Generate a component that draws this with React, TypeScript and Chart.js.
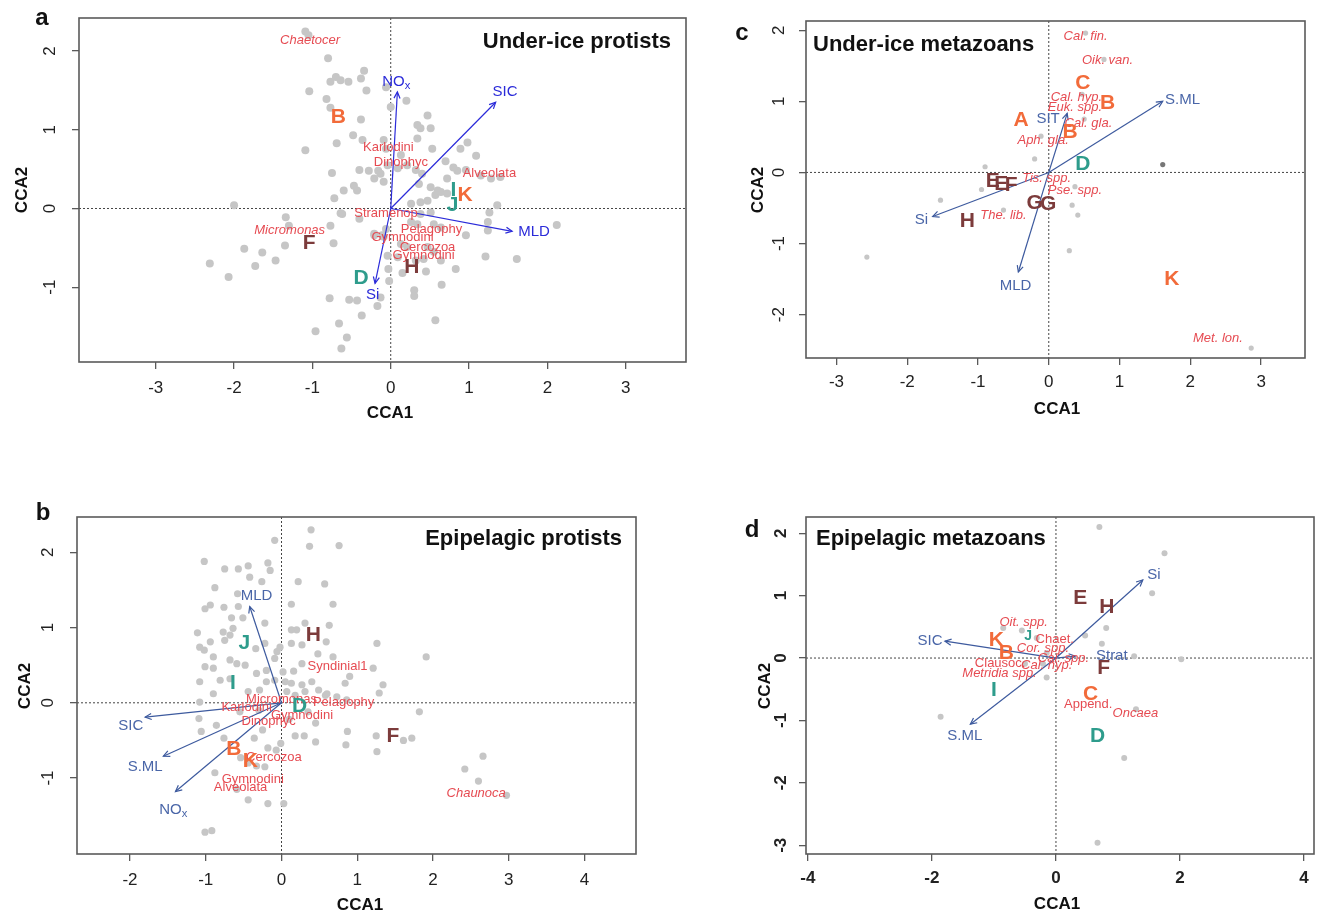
import React, { useEffect, useRef } from 'react';
import { Chart, registerables } from 'chart.js';
Chart.register(...registerables);

const FONT = '"Liberation Sans", Arial, Helvetica, sans-serif';

// ---------- Panel a : Under-ice protists ----------
const aXTicks = [-3, -2, -1, 0, 1, 2, 3];
const aYTicks = [-1, 0, 1, 2];
const aPoints: [number, number][] = [
  [-1.09, 2.25], [-1.05, 2.2], [-0.8, 1.91], [-0.34, 1.75], [-0.7, 1.67], [-0.64, 1.63], [-0.54, 1.61], [-0.77, 1.61],
  [-0.38, 1.65], [-0.31, 1.5], [-1.04, 1.49], [-0.82, 1.39], [-0.77, 1.28], [-0.38, 1.13], [-0.48, 0.93], [-0.36, 0.87],
  [-0.09, 0.87], [-0.69, 0.83], [-1.09, 0.74], [-0.75, 0.45], [-0.4, 0.49], [-0.28, 0.48], [-0.21, 0.38], [-0.09, 0.34],
  [-0.47, 0.29], [-0.43, 0.23], [-0.72, 0.13], [-2.0, 0.04], [-0.06, 1.54], [0.2, 1.37], [0.0, 1.29], [0.47, 1.18],
  [0.34, 1.06], [0.38, 1.02], [0.51, 1.02], [0.34, 0.89], [0.53, 0.76], [0.98, 0.84], [1.09, 0.67], [0.89, 0.76],
  [-0.06, 0.76], [0.13, 0.68], [-0.04, 0.55], [0.09, 0.51], [0.21, 0.55], [0.32, 0.49], [0.4, 0.44], [-0.16, 0.48],
  [-0.13, 0.44], [0.85, 0.48], [0.96, 0.49], [1.15, 0.42], [1.28, 0.38], [1.4, 0.4], [0.72, 0.38], [0.36, 0.31],
  [0.51, 0.27], [0.64, 0.21], [0.57, 0.17], [-0.6, 0.23], [1.36, 0.04], [0.26, 0.06], [0.38, 0.08], [1.26, -0.05],
  [1.24, -0.17], [1.24, -0.28], [0.96, -0.34], [2.12, -0.21], [1.21, -0.61], [1.61, -0.64], [0.83, -0.77], [0.65, -0.97],
  [0.57, -1.42], [0.45, -0.8], [0.15, -0.82], [0.3, -1.04], [0.3, -1.11], [-0.03, -0.77], [-0.02, -0.92], [-0.17, -1.24],
  [-0.13, -1.13], [-0.62, -0.07], [-0.4, -0.13], [-0.21, -0.34], [-0.09, -0.36], [-0.06, -0.26], [0.38, -0.07], [0.51, -0.05],
  [0.47, 0.1], [0.6, 0.23], [0.72, 0.19], [0.26, -0.17], [0.34, -0.2], [0.55, -0.2], [0.64, -0.24], [0.13, -0.45],
  [0.21, -0.49], [0.47, -0.49], [0.55, -0.55], [-0.04, -0.6], [0.09, -0.62], [0.32, -0.66], [0.42, -0.64], [0.64, -0.66],
  [-0.78, -1.14], [-0.53, -1.16], [-0.43, -1.17], [-0.37, -1.36], [-0.66, -1.46], [-0.96, -1.56], [-0.56, -1.64], [-0.63, -1.78],
  [-1.34, -0.11], [-1.3, -0.22], [-0.77, -0.22], [-0.64, -0.06], [-0.73, -0.44], [-1.35, -0.47], [-1.87, -0.51], [-1.64, -0.56],
  [-1.47, -0.66], [-1.73, -0.73], [-2.31, -0.7], [-2.07, -0.87], [-0.21, -0.32], [-0.11, -0.34], [0.8, 0.52], [0.7, 0.6],
];
// [letter, colour group, x, y, size]
const aSites: [string, string, number, number, number][] = [
  ['B', 'O', -0.67, 1.16, 21], ['F', 'R', -1.04, -0.44, 21], ['D', 'T', -0.38, -0.88, 21], ['H', 'R', 0.27, -0.74, 21],
  ['I', 'T', 0.8, 0.23, 21], ['J', 'T', 0.79, 0.04, 21], ['K', 'O', 0.95, 0.17, 21],
];
// [text, x, y, italic]
const aTaxa: [string, number, number, boolean][] = [
  ['Chaetocer', -1.03, 2.14, true], ['Karlodini', -0.03, 0.77, false], ['Dinophyc', 0.13, 0.58, false],
  ['Alveolata', 1.26, 0.45, false], ['Stramenop', -0.06, -0.06, false], ['Micromonas', -1.29, -0.28, true],
  ['Pelagophy', 0.52, -0.27, false], ['Gymnodini', 0.15, -0.37, false], ['Cercozoa', 0.47, -0.5, false],
  ['Gymnodini', 0.42, -0.6, false],
];
// [label, tip x, tip y, label x, label y]
const aArrows: [string, number, number, number, number][] = [
  ['NOx', 0.085, 1.48, 0.07, 1.61], ['SIC', 1.34, 1.35, 1.46, 1.48], ['MLD', 1.55, -0.29, 1.83, -0.3], ['Si', -0.2, -0.95, -0.23, -1.1],
];

// ---------- Panel b : Epipelagic protists ----------
const bXTicks = [-2, -1, 0, 1, 2, 3, 4];
const bYTicks = [-1, 0, 1, 2];
const bPoints: [number, number][] = [
  [0.39, 2.3], [0.37, 2.08], [-0.09, 2.16], [-1.02, 1.88], [-0.75, 1.78], [-0.57, 1.78], [-0.44, 1.82], [-0.18, 1.86],
  [-0.15, 1.76], [-0.42, 1.67], [-0.88, 1.53], [-0.26, 1.61], [0.22, 1.61], [0.57, 1.58], [-0.58, 1.45], [-1.01, 1.25],
  [-0.94, 1.3], [-0.76, 1.27], [-0.57, 1.28], [0.13, 1.31], [-0.66, 1.13], [-0.51, 1.13], [-0.22, 1.06], [-1.11, 0.93],
  [-0.77, 0.94], [-0.64, 0.99], [0.31, 1.06], [0.2, 0.97], [0.13, 0.97], [-1.08, 0.74], [-0.94, 0.81], [-1.02, 0.7],
  [-0.75, 0.83], [-0.68, 0.9], [-0.34, 0.72], [-0.22, 0.79], [-0.06, 0.68], [-0.02, 0.74], [-0.09, 0.59], [0.13, 0.79],
  [0.27, 0.77], [-0.9, 0.61], [-0.68, 0.57], [-0.59, 0.52], [-0.48, 0.5], [-1.01, 0.48], [-0.9, 0.46], [-0.33, 0.39],
  [-0.2, 0.43], [0.02, 0.41], [0.16, 0.42], [0.27, 0.52], [-1.08, 0.28], [-0.81, 0.3], [-0.68, 0.32], [-0.2, 0.28],
  [-0.09, 0.3], [0.05, 0.28], [0.13, 0.26], [0.27, 0.24], [0.4, 0.28], [-0.9, 0.12], [-1.08, 0.01], [-0.44, 0.15],
  [-0.29, 0.17], [0.07, 0.15], [0.18, 0.1], [0.31, 0.15], [0.49, 0.17], [0.58, 0.1], [0.76, 2.09], [0.68, 1.31],
  [0.63, 1.03], [1.26, 0.79], [1.91, 0.61], [0.59, 0.81], [0.48, 0.65], [0.68, 0.61], [1.21, 0.46], [0.9, 0.35],
  [0.84, 0.26], [1.34, 0.24], [1.29, 0.13], [0.6, 0.12], [0.73, 0.08], [0.86, 0.04], [1.82, -0.12], [0.87, -0.38],
  [0.85, -0.56], [1.25, -0.44], [1.26, -0.65], [1.61, -0.5], [1.72, -0.47], [2.42, -0.88], [2.66, -0.71], [2.6, -1.04],
  [2.97, -1.23], [0.18, -0.44], [0.3, -0.44], [0.45, -0.52], [0.45, -0.27], [-0.01, -0.54], [-0.07, -0.63], [-0.18, -0.6],
  [-0.36, -0.47], [-0.25, -0.36], [-0.76, -0.47], [-0.86, -0.3], [-1.06, -0.38], [-1.09, -0.21], [-0.88, -0.93], [-0.22, -0.85],
  [-0.33, -0.84], [-0.44, -1.29], [-0.18, -1.34], [0.03, -1.34], [-0.59, -1.15], [-1.01, -1.72], [-0.92, -1.7], [-0.54, -0.73],
  [-0.44, -0.8], [-0.55, -0.12], [-0.3, -0.1], [0.1, -0.22], [0.35, -0.12],
];
const bSites: [string, string, number, number, number][] = [
  ['H', 'R', 0.42, 0.9, 21], ['J', 'T', -0.49, 0.79, 21], ['I', 'T', -0.64, 0.26, 21], ['D', 'T', 0.24, -0.05, 21],
  ['B', 'O', -0.63, -0.62, 21], ['K', 'O', -0.41, -0.78, 21], ['F', 'R', 1.47, -0.45, 21],
];
const bTaxa: [string, number, number, boolean][] = [
  ['Syndinial1', 0.74, 0.49, false], ['Micromonas', 0.0, 0.05, false], ['Pelagophy', 0.82, 0.0, false],
  ['Karlodini', -0.46, -0.06, false], ['Gymnodini', 0.27, -0.17, false], ['Dinophyc', -0.17, -0.25, false],
  ['Cercozoa', -0.1, -0.72, false], ['Gymnodini', -0.38, -1.02, false], ['Alveolata', -0.54, -1.13, false],
  ['Chaunoca', 2.57, -1.21, true],
];
const bArrows: [string, number, number, number, number][] = [
  ['MLD', -0.42, 1.28, -0.33, 1.42], ['SIC', -1.8, -0.19, -1.99, -0.3], ['S.ML', -1.56, -0.71, -1.8, -0.85], ['NOx', -1.4, -1.18, -1.43, -1.42],
];

// ---------- Panel c : Under-ice metazoans ----------
const cXTicks = [-3, -2, -1, 0, 1, 2, 3];
const cYTicks = [-2, -1, 0, 1, 2];
const cPoints: [number, number][] = [
  [0.52, 1.96], [0.78, 1.59], [0.47, 1.1], [0.5, 0.75], [-0.11, 0.51], [-0.2, 0.19], [-0.9, 0.08], [0.37, -0.2],
  [0.33, -0.46], [-0.95, -0.24], [-1.53, -0.39], [-0.64, -0.53], [0.41, -0.6], [0.29, -1.1], [-2.57, -1.19], [2.86, -2.47],
];
const cDarkPoints: [number, number][] = [[1.61, 0.11]];
const cSites: [string, string, number, number, number][] = [
  ['C', 'O', 0.48, 1.25, 21], ['B', 'O', 0.83, 0.98, 21], ['A', 'O', -0.39, 0.74, 21], ['B', 'O', 0.3, 0.56, 21],
  ['D', 'T', 0.48, 0.12, 21], ['E', 'R', -0.79, -0.13, 21], ['E', 'R', -0.67, -0.17, 21], ['F', 'R', -0.53, -0.18, 21],
  ['G', 'R', -0.2, -0.43, 21], ['G', 'R', -0.01, -0.44, 21], ['H', 'R', -1.15, -0.69, 21], ['K', 'O', 1.74, -1.5, 21],
];
const cTaxa: [string, number, number, boolean][] = [
  ['Cal. fin.', 0.52, 1.91, true], ['Oik. van.', 0.83, 1.58, true], ['Cal. hyp.', 0.39, 1.06, true],
  ['Euk. spp.', 0.37, 0.92, true], ['Cal. gla.', 0.56, 0.69, true], ['Aph. gla.', -0.08, 0.45, true],
  ['Tis. spp.', -0.03, -0.09, true], ['Pse. spp.', 0.37, -0.25, true], ['The. lib.', -0.64, -0.6, true],
  ['Met. lon.', 2.39, -2.34, true],
];
const cArrows: [string, number, number, number, number][] = [
  ['S.ML', 1.61, 1.0, 1.89, 1.02], ['SIT', 0.26, 0.83, -0.01, 0.75], ['Si', -1.64, -0.62, -1.8, -0.67], ['MLD', -0.43, -1.4, -0.47, -1.6],
];

// ---------- Panel d : Epipelagic metazoans ----------
const dXTicks = [-4, -2, 0, 2, 4];
const dYTicks = [-3, -2, -1, 0, 1, 2];
const dPoints: [number, number][] = [
  [0.7, 2.1], [1.75, 1.68], [1.55, 1.04], [0.81, 0.48], [0.47, 0.36], [0.74, 0.23], [1.26, 0.03], [2.02, -0.02],
  [-0.15, -0.31], [-1.86, -0.94], [1.1, -1.6], [0.67, -2.96], [1.29, -0.82], [-0.85, 0.48], [-0.55, 0.44], [-0.31, 0.32],
  [-0.15, 0.08], [-0.5, -0.09], [-0.21, -0.09],
];
const dSites: [string, string, number, number, number][] = [
  ['E', 'R', 0.39, 0.96, 21], ['H', 'R', 0.82, 0.82, 21], ['K', 'O', -0.96, 0.28, 21], ['J', 'T', -0.45, 0.35, 14],
  ['B', 'O', -0.8, 0.07, 21], ['F', 'R', 0.77, -0.16, 21], ['I', 'T', -1.0, -0.51, 21], ['C', 'O', 0.56, -0.58, 21],
  ['D', 'T', 0.67, -1.25, 21],
];
const dTaxa: [string, number, number, boolean][] = [
  ['Oit. spp.', -0.52, 0.57, true], ['Chaet.', -0.02, 0.3, false], ['Cor. spp.', -0.21, 0.15, true],
  ['Cal. spp.', 0.12, -0.01, true], ['Clausoc.', -0.9, -0.09, false], ['Cal. hyp.', -0.15, -0.11, true],
  ['Metridia spp.', -0.91, -0.25, true], ['Append.', 0.52, -0.74, false], ['Oncaea', 1.28, -0.88, true],
];
const dArrows: [string, number, number, number, number][] = [
  ['Si', 1.4, 1.25, 1.58, 1.34], ['SIC', -1.79, 0.27, -2.03, 0.28], ['S.ML', -1.38, -1.06, -1.47, -1.24], ['Strat', 0.31, 0.03, 0.9, 0.03],
];

const SITE_COLORS: Record<string, string> = { O: '#f26b3a', R: '#7c3b3b', T: '#2e9c8c' };
const TAXON_COLOR = '#e64b52';
const POINT_COLOR = '#c6c6c6';
const FRAME = '#5a5a5a';
const AXW = 40;

type Spec = {
  left: number; top: number; w: number; h: number;
  area: { l: number; t: number; r: number; b: number };
  xr: [number, number]; yr: [number, number];
  xTicks: number[]; yTicks: number[];
  points: [number, number][]; dark?: [number, number][];
  pointR: number;
  sites: [string, string, number, number, number][];
  taxa: [string, number, number, boolean][];
  arrows: [string, number, number, number, number][];
  arrowColor: string; arrowText: string;
  letter: string; letterPos: [number, number];
  title: string; titleAlign: 'left' | 'right'; titlePos: [number, number];
  xTitlePos: [number, number]; yTitlePos: [number, number];
  yTickOff: number; xTickOff: number; tickBold: boolean;
};

function drawLabel(ctx: CanvasRenderingContext2D, text: string, x: number, y: number, size: number, color: string) {
  ctx.fillStyle = color;
  ctx.textBaseline = 'middle';
  if (text === 'NOx') {
    ctx.font = `${size}px ${FONT}`;
    const w1 = ctx.measureText('NO').width;
    ctx.font = `${size * 0.75}px ${FONT}`;
    const w2 = ctx.measureText('x').width;
    const x0 = x - (w1 + w2) / 2;
    ctx.textAlign = 'left';
    ctx.font = `${size}px ${FONT}`;
    ctx.fillText('NO', x0, y);
    ctx.font = `${size * 0.75}px ${FONT}`;
    ctx.fillText('x', x0 + w1, y + 4);
  } else {
    ctx.font = `${size}px ${FONT}`;
    ctx.textAlign = 'center';
    ctx.fillText(text, x, y);
  }
}

function makeOverlay(s: Spec) {
  return {
    id: 'overlay',
    beforeDatasetsDraw(chart: any) {
      const { ctx, chartArea: a, scales } = chart;
      const x0 = scales.x.getPixelForValue(0);
      const y0 = scales.y.getPixelForValue(0);
      ctx.save();
      ctx.strokeStyle = '#444';
      ctx.lineWidth = 1;
      ctx.setLineDash([2, 2]);
      ctx.beginPath();
      ctx.moveTo(a.left, y0); ctx.lineTo(a.right, y0);
      ctx.moveTo(x0, a.top); ctx.lineTo(x0, a.bottom);
      ctx.stroke();
      ctx.restore();
    },
    afterDatasetsDraw(chart: any) {
      const { ctx, scales } = chart;
      const px = (v: number) => scales.x.getPixelForValue(v);
      const py = (v: number) => scales.y.getPixelForValue(v);
      ctx.save();
      // arrowheads
      const ox = px(0), oy = py(0);
      ctx.strokeStyle = s.arrowColor;
      ctx.lineWidth = 1.2;
      for (const [, tx, ty] of s.arrows) {
        const ex = px(tx), ey = py(ty);
        const ang = Math.atan2(ey - oy, ex - ox);
        const L = 7, sp = Math.PI / 7;
        ctx.beginPath();
        ctx.moveTo(ex - L * Math.cos(ang - sp), ey - L * Math.sin(ang - sp));
        ctx.lineTo(ex, ey);
        ctx.lineTo(ex - L * Math.cos(ang + sp), ey - L * Math.sin(ang + sp));
        ctx.stroke();
      }
      // taxa
      ctx.textAlign = 'center';
      ctx.textBaseline = 'middle';
      ctx.fillStyle = TAXON_COLOR;
      for (const [t, x, y, it] of s.taxa) {
        ctx.font = `${it ? 'italic ' : ''}13px ${FONT}`;
        ctx.fillText(t, px(x), py(y));
      }
      // site letters
      for (const [t, c, x, y, sz] of s.sites) {
        ctx.font = `bold ${sz}px ${FONT}`;
        ctx.fillStyle = SITE_COLORS[c];
        ctx.fillText(t, px(x), py(y));
      }
      // arrow labels
      for (const [lab, , , lx, ly] of s.arrows) {
        drawLabel(ctx, lab, px(lx), py(ly), 15, s.arrowText);
      }
      ctx.restore();
    },
    afterDraw(chart: any) {
      const { ctx, chartArea: a, scales } = chart;
      ctx.save();
      ctx.strokeStyle = FRAME;
      ctx.lineWidth = 1.6;
      ctx.strokeRect(a.left, a.top, a.right - a.left, a.bottom - a.top);
      ctx.fillStyle = '#222';
      ctx.textAlign = 'center';
      ctx.textBaseline = 'middle';
      ctx.font = `${s.tickBold ? 'bold ' : ''}17px ${FONT}`;
      for (const v of s.xTicks) {
        ctx.fillText(v < 0 ? '-' + Math.abs(v) : String(v), scales.x.getPixelForValue(v), a.bottom + s.xTickOff);
      }
      for (const v of s.yTicks) {
        ctx.save();
        ctx.translate(a.left - s.yTickOff, scales.y.getPixelForValue(v));
        ctx.rotate(-Math.PI / 2);
        ctx.fillText(v < 0 ? '-' + Math.abs(v) : String(v), 0, 0);
        ctx.restore();
      }
      ctx.fillStyle = '#111';
      ctx.font = `bold 17px ${FONT}`;
      ctx.fillText('CCA1', s.xTitlePos[0], s.xTitlePos[1]);
      ctx.save();
      ctx.translate(s.yTitlePos[0], s.yTitlePos[1]);
      ctx.rotate(-Math.PI / 2);
      ctx.fillText('CCA2', 0, 0);
      ctx.restore();
      ctx.font = `bold 24px ${FONT}`;
      ctx.fillText(s.letter, s.letterPos[0], s.letterPos[1]);
      ctx.font = `bold 22px ${FONT}`;
      ctx.textAlign = s.titleAlign;
      ctx.fillText(s.title, s.titlePos[0], s.titlePos[1]);
      ctx.restore();
    },
  };
}

function Panel({ s }: { s: Spec }) {
  const ref = useRef<HTMLCanvasElement>(null);
  useEffect(() => {
    const datasets: any[] = [
      {
        data: s.points.map(([x, y]) => ({ x, y })),
        pointRadius: s.pointR, backgroundColor: POINT_COLOR, borderWidth: 0, order: 3,
      },
    ];
    if (s.dark) {
      datasets.push({
        data: s.dark.map(([x, y]) => ({ x, y })),
        pointRadius: s.pointR, backgroundColor: '#777', borderWidth: 0, order: 2,
      });
    }
    for (const [, tx, ty] of s.arrows) {
      datasets.push({
        data: [{ x: 0, y: 0 }, { x: tx, y: ty }],
        showLine: true, borderColor: s.arrowColor, borderWidth: 1.2, pointRadius: 0, order: 1,
      });
    }
    const axisCommon = {
      type: 'linear',
      ticks: { display: false },
      grid: { display: true, drawOnChartArea: false, drawTicks: true, tickLength: 7, color: FRAME, lineWidth: 1.3 },
      border: { display: false },
    };
    const chart = new Chart(ref.current as HTMLCanvasElement, {
      type: 'scatter',
      data: { datasets },
      options: {
        responsive: false,
        animation: false,
        events: [],
        layout: {
          padding: {
            left: s.area.l - AXW, top: s.area.t, right: s.w - s.area.r, bottom: s.h - s.area.b - AXW,
          },
        },
        plugins: { legend: { display: false }, tooltip: { enabled: false } },
        scales: {
          x: {
            ...axisCommon, position: 'bottom', min: s.xr[0], max: s.xr[1],
            afterBuildTicks: (sc: any) => { sc.ticks = s.xTicks.map((v) => ({ value: v })); },
            afterFit: (sc: any) => { sc.height = AXW; },
          },
          y: {
            ...axisCommon, position: 'left', min: s.yr[0], max: s.yr[1],
            afterBuildTicks: (sc: any) => { sc.ticks = s.yTicks.map((v) => ({ value: v })); },
            afterFit: (sc: any) => { sc.width = AXW; },
          },
        },
      } as any,
      plugins: [makeOverlay(s)],
    } as any);
    return () => chart.destroy();
  }, []);
  return (
    <canvas
      ref={ref}
      width={s.w}
      height={s.h}
      style={{ position: 'absolute', left: s.left, top: s.top, width: s.w, height: s.h }}
    />
  );
}

const specA: Spec = {
  left: 0, top: 0, w: 705, h: 440, area: { l: 79, t: 18, r: 686, b: 362 },
  xr: [-3.98, 3.77], yr: [-1.95, 2.42], xTicks: aXTicks, yTicks: aYTicks,
  points: aPoints, pointR: 4, sites: aSites, taxa: aTaxa, arrows: aArrows,
  arrowColor: '#2b2bd9', arrowText: '#2b2bd9',
  letter: 'a', letterPos: [42, 18], title: 'Under-ice protists', titleAlign: 'right', titlePos: [671, 42],
  xTitlePos: [390, 413], yTitlePos: [22, 190], yTickOff: 29, xTickOff: 26, tickBold: false,
};
const specB: Spec = {
  left: 0, top: 470, w: 705, h: 445, area: { l: 77, t: 47, r: 636, b: 384 },
  xr: [-2.7, 4.68], yr: [-2.01, 2.47], xTicks: bXTicks, yTicks: bYTicks,
  points: bPoints, pointR: 3.6, sites: bSites, taxa: bTaxa, arrows: bArrows,
  arrowColor: '#3d5a9e', arrowText: '#4a66a8',
  letter: 'b', letterPos: [43, 43], title: 'Epipelagic protists', titleAlign: 'right', titlePos: [622, 69],
  xTitlePos: [360, 435], yTitlePos: [25, 216], yTickOff: 29, xTickOff: 26, tickBold: false,
};
const specC: Spec = {
  left: 710, top: 0, w: 609, h: 440, area: { l: 96, t: 21, r: 595, b: 358 },
  xr: [-3.43, 3.62], yr: [-2.61, 2.13], xTicks: cXTicks, yTicks: cYTicks,
  points: cPoints, dark: cDarkPoints, pointR: 2.6, sites: cSites, taxa: cTaxa, arrows: cArrows,
  arrowColor: '#3d5a9e', arrowText: '#4a66a8',
  letter: 'c', letterPos: [32, 33], title: 'Under-ice metazoans', titleAlign: 'left', titlePos: [103, 45],
  xTitlePos: [347, 409], yTitlePos: [48, 190], yTickOff: 27, xTickOff: 24, tickBold: false,
};
const specD: Spec = {
  left: 710, top: 470, w: 609, h: 445, area: { l: 96, t: 47, r: 604, b: 384 },
  xr: [-4.03, 4.16], yr: [-3.14, 2.26], xTicks: dXTicks, yTicks: dYTicks,
  points: dPoints, pointR: 3, sites: dSites, taxa: dTaxa, arrows: dArrows,
  arrowColor: '#3d5a9e', arrowText: '#4a66a8',
  letter: 'd', letterPos: [42, 60], title: 'Epipelagic metazoans', titleAlign: 'left', titlePos: [106, 69],
  xTitlePos: [347, 434], yTitlePos: [55, 216], yTickOff: 25, xTickOff: 24, tickBold: true,
};

export default function App() {
  return (
    <div style={{ position: 'absolute', left: 0, top: 0, width: 1319, height: 915, background: '#fff', overflow: 'hidden' }}>
      <Panel s={specA} />
      <Panel s={specC} />
      <Panel s={specB} />
      <Panel s={specD} />
    </div>
  );
}
